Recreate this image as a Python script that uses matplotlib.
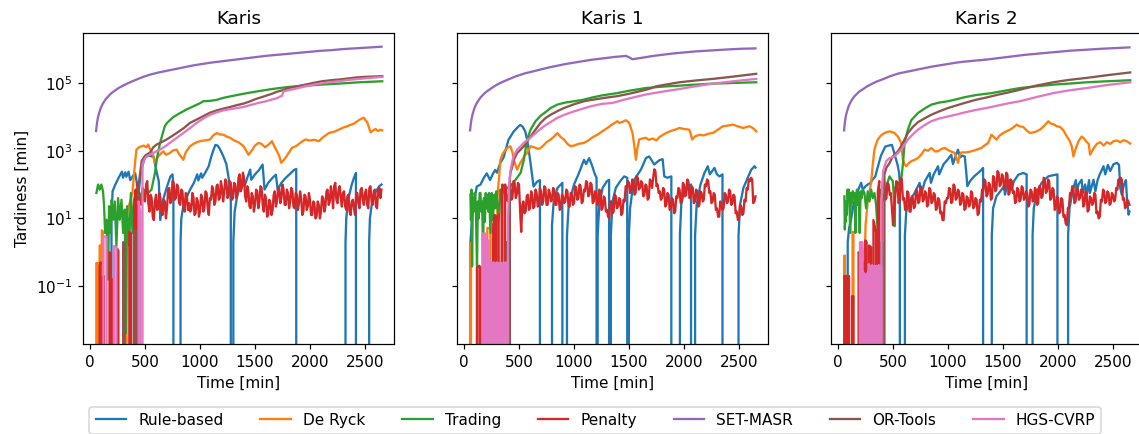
import numpy as np
import matplotlib.pyplot as plt

# Values are log10(tardiness [min]); Z marks zero tardiness (line falls to the floor)
Z = -np.inf

titles = ['Karis', 'Karis 1', 'Karis 2']
methods = ['Rule-based', 'De Ryck', 'Trading', 'Penalty', 'SET-MASR', 'OR-Tools', 'HGS-CVRP']
colors = ['tab:blue', 'tab:orange', 'tab:green', 'tab:red', 'tab:purple', 'tab:brown', 'tab:pink']

# ---------------- Karis ----------------
k0_rule_t = [190, 195, 205, 230, 260, 290, 300, 320, 330, 350, 365, 400, 411, 441, 460, 480, 502, 540, 578, 608,
             625, 639, 660, 700, 730, 750, 758, 760, 820, 823, 830, 850, 880, 910, 943, 975, 985, 1010, 1020, 1050,
             1080, 1100, 1120, 1140, 1160, 1180, 1210, 1240, 1265, 1280, 1290, 1300, 1303, 1315, 1340, 1380, 1395,
             1405, 1430, 1456, 1466, 1500, 1535, 1569, 1587, 1620, 1660, 1690, 1706, 1740, 1780, 1820, 1852, 1875,
             1882, 2320, 2323, 2330, 2350, 2380, 2400, 2418, 2422, 2535, 2538, 2545, 2565, 2600, 2630, 2650]
k0_rule = [Z, 1.0, 1.8, 2.0, 2.2, 2.38, 2.2, 2.36, 2.23, 2.38, 2.13, 2.3, 2.33, 1.74, 2.3, 2.6, 2.82, 2.85, 2.82, 2.33,
           2.1, 0.95, 1.5, 1.94, 2.23, 2.3, 2.0, Z, Z, 0.3, 1.0, 1.4, 1.64, 1.85, 2.04, 2.3, 2.12, 2.33, 2.2, 2.36,
           2.55, 2.8, 3.0, 3.17, 3.15, 3.05, 2.85, 2.6, 2.1, 1.5, Z, Z, 0.3, 1.2, 1.7, 2.05, 2.25,
           1.95, 2.2, 2.44, 2.14, 2.3, 2.42, 2.59, 1.85, 2.05, 2.2, 2.29, 1.85, 2.05, 2.2, 2.32, 2.42, 2.46,
           Z, Z, 0.3, 1.0, 1.6, 2.0, 2.2, 2.34, Z, Z, 0.3, 1.0, 1.5, 1.8, 1.95, 2.0]

k0_ryck_t = [55, 57, 68, 70, 85, 87, 95, 97, 105, 107, 118, 120, 330, 332, 345, 365, 385, 405, 422, 445,
             468, 490, 510, 529, 545, 559, 575, 590, 605, 620, 640, 666, 690, 726, 750, 787, 810, 848, 870, 909,
             940, 970, 1000, 1040, 1091, 1120, 1152, 1180, 1213, 1240, 1274, 1310, 1350, 1396, 1441, 1470, 1500,
             1532, 1560, 1590, 1624, 1654, 1680, 1700, 1720, 1739, 1760, 1776, 1800, 1836, 1880, 1920, 1958, 2000,
             2040, 2080, 2120, 2171, 2220, 2262, 2300, 2353, 2400, 2444, 2470, 2490, 2505, 2520, 2535, 2551,
             2575, 2596, 2620, 2640, 2657]
k0_ryck = [Z, -0.32, -0.32, Z, Z, 0.2, 0.2, Z, Z, 0.65, 0.6, Z, Z, 1.0, 1.3, 1.5, 1.75, 2.5, 3.03, 3.1,
           3.13, 3.15, 3.1, 3.18, 3.05, 2.98, 2.85, 2.64, 2.75, 2.83, 2.9, 2.98, 2.88, 2.93, 3.0, 3.03, 2.9, 2.73,
           2.95, 3.13, 3.2, 3.25, 3.28, 3.3, 3.33, 3.45, 3.52, 3.48, 3.47, 3.42, 3.38, 3.3, 3.25, 3.13, 2.88, 3.0,
           3.15, 3.23, 3.2, 3.1, 3.18, 3.28, 3.1, 2.98, 2.85, 2.64, 2.72, 2.78, 2.9, 3.08, 3.15, 3.25, 3.33, 3.3,
           3.32, 3.28, 3.4, 3.52, 3.56, 3.62, 3.68, 3.74, 3.8, 3.9, 3.95, 3.97, 3.9, 3.84, 3.7, 3.54,
           3.6, 3.64, 3.58, 3.62, 3.60]

k0_trade_t = [58, 73, 88, 103, 118, 128, 137, 149, 164, 173, 185, 197, 210, 225, 240, 255, 270, 286, 301, 316,
              325, 337, 356, 371, 386, 401, 422, 453, 483, 529, 559, 590, 610, 635, 660, 680, 700, 726, 760, 818,
              880, 939, 1000, 1030, 1091, 1150, 1213, 1300, 1395, 1500, 1654, 1800, 1958, 2100, 2262, 2450, 2657]
k0_trade = [1.75, 2.0, 1.85, 2.0, 1.8, 1.36, 0.57, 0.96, -0.81, 1.36, 0.57, 1.55, 0.96, 1.5, 0.18, 1.6, 0.96, 1.55,
            0.57, 1.26, -2.4, 1.36, 0.18, 1.75, 0.57, 1.55, 1.85, 1.65, 1.85, 1.75, 1.85, 2.34, 2.8, 3.2, 3.5, 3.72,
            3.82, 3.9, 4.0, 4.11, 4.22, 4.31, 4.4, 4.46, 4.47, 4.5, 4.56, 4.62, 4.68, 4.74, 4.82, 4.88, 4.92, 4.95,
            4.98, 5.02, 5.05]

k0_pen_t = [85, 87, 95, 97, 115, 117, 125, 127, 175, 177, 185, 187, 200, 202, 210, 212, 245, 247, 258, 260,
            300, 302, 312, 314, 355, 357, 372, 374, 400, 402, 415, 417, 430, 432, 450, 465] \
    + list(range(480, 2651, 10))
k0_pen = [Z, -0.4, -0.3, Z, Z, -0.75, -0.7, Z, Z, 0.0, -0.05, Z, Z, -0.8, -0.8, Z, Z, 0.1, 0.05, Z,
          Z, 0.2, 0.15, Z, Z, 0.6, 0.55, Z, Z, 1.3, 1.85, Z, Z, 2.05, 1.6, 1.4,
          1.9, 1.55, 1.5, 2.0, 2.1, 1.45, 1.2, 1.7, 1.6, 1.05,
          0.95, 1.5, 1.7, 1.25, 1.3, 1.75, 1.6, 1.15, 1.1, 1.55,
          1.5, 1.0, 1.3, 1.85, 1.9, 1.45, 1.5, 2.1, 2.05, 1.55,
          1.6, 2.0, 1.95, 1.45, 1.4, 1.85, 1.8, 1.3, 1.2, 1.75,
          1.7, 1.25, 1.45, 1.2, 1.25, 1.75, 1.65, 1.1, 1.15, 1.6,
          1.5, 1.05, 1.2, 1.7, 1.6, 1.2, 1.3, 1.8, 1.75, 1.3,
          1.1, 1.6, 1.55, 1.95, 1.85, 1.4, 1.5, 1.95, 2.0, 1.55,
          1.6, 2.1, 1.9, 1.5, 1.75, 2.15, 2.1, 1.6, 1.7, 2.1,
          2.05, 1.55, 1.6, 2.05, 2.0, 1.6, 1.7, 2.2, 2.3, 1.8,
          1.9, 2.35, 2.2, 1.65, 1.5, 1.95, 1.8, 1.35, 1.3, 1.75,
          1.65, 1.2, 1.4, 1.85, 1.8, 1.3, 1.5, 1.95, 1.9, 1.4,
          1.2, 1.7, 1.6, 1.05, 1.1, 1.55, 1.45, 1.1, 1.25, 1.7,
          1.8, 1.35, 1.5, 1.9, 1.9, 1.45, 1.6, 2.0, 1.85, 1.4,
          1.4, 1.85, 1.75, 1.3, 1.5, 1.9, 1.8, 1.35, 1.3, 1.75,
          1.7, 1.25, 1.45, 1.8, 1.6, 1.1, 1.2, 1.7, 1.65, 1.25,
          1.35, 1.75, 1.55, 1.1, 1.1, 1.5, 1.45, 1.0, 1.05, 1.5,
          1.4, 1.0, 1.2, 1.65, 1.6, 1.2, 1.35, 1.8, 1.85, 1.4,
          1.5, 1.95, 1.7, 1.3, 1.95, 2.05, 1.55, 1.45, 1.85, 1.95,
          1.6, 1.35, 1.75, 1.8, 1.35, 1.25, 1.65, 1.7, 1.2, 1.1,
          1.5, 1.55, 1.3, 1.1, 1.7, 1.75, 1.45, 1.3, 1.85, 1.9,
          1.55, 1.4, 1.75, 1.85, 1.4, 1.3, 1.9, 1.95, 1.5, 1.4,
          1.8, 1.85, 1.35, 1.3, 1.85, 1.9, 1.6, 1.85]

k0_set_t = [55, 60, 65, 72, 80, 90, 100, 115, 130, 150, 170, 195, 220, 260, 300, 350, 400, 475, 550, 625, 700,
            775, 850, 925, 1000, 1100, 1200, 1300, 1400, 1500, 1600, 1700, 1800, 1900, 2000, 2100, 2200, 2300,
            2400, 2525, 2650]
k0_set = [3.58, 3.73, 3.85, 3.98, 4.08, 4.19, 4.28, 4.38, 4.46, 4.55, 4.62, 4.70, 4.76, 4.85, 4.92, 5.00, 5.07,
          5.17, 5.25, 5.31, 5.36, 5.41, 5.46, 5.51, 5.55, 5.60, 5.64, 5.68, 5.72, 5.76, 5.80, 5.83, 5.86, 5.89,
          5.92, 5.95, 5.97, 6.00, 6.02, 6.045, 6.07]

k0_ort_t = [300, 302, 315, 317, 395, 397, 420, 422, 440, 442, 470, 500, 547, 575, 605, 650, 696, 740, 787, 850,
            909, 970, 1030, 1090, 1152, 1210, 1274, 1330, 1395, 1450, 1502, 1560, 1654, 1700, 1745, 1806, 1880,
            1958, 2030, 2110, 2190, 2262, 2340, 2414, 2500, 2580, 2657]
k0_ort = [Z, 0.3, 0.25, Z, Z, 0.67, 0.6, Z, Z, 2.0, 2.7, 2.85, 2.95, 3.1, 3.18, 3.25, 3.33, 3.42, 3.52, 3.66,
          3.82, 3.92, 4.02, 4.12, 4.19, 4.24, 4.29, 4.34, 4.39, 4.45, 4.52, 4.58, 4.68, 4.74, 4.78, 4.85, 4.90,
          4.95, 5.00, 5.05, 5.08, 5.10, 5.13, 5.16, 5.18, 5.19, 5.20]

k0_hgs_t = [120, 122, 150, 152, 215, 217, 240, 242, 440, 442, 455, 457, 470, 477, 495, 514, 545, 574, 605, 635,
            680, 726, 790, 848, 910, 970, 1030, 1091, 1150, 1213, 1300, 1395, 1460, 1532, 1600, 1654, 1700, 1730,
            1745, 1760, 1800, 1880, 1958, 2050, 2150, 2262, 2350, 2450, 2550, 2657]
k0_hgs = [Z, 0.47, 0.45, Z, Z, 0.18, 0.15, Z, Z, 1.5, 1.2, Z, Z, 2.59, 2.75, 2.83, 2.88, 2.93, 2.98, 3.03,
          3.12, 3.23, 3.38, 3.52, 3.67, 3.82, 3.95, 4.06, 4.13, 4.19, 4.24, 4.29, 4.35, 4.41, 4.46, 4.51, 4.55,
          4.60, 4.62, 4.75, 4.78, 4.84, 4.90, 4.96, 5.01, 5.05, 5.09, 5.12, 5.15, 5.18]

# ---------------- Karis 1 ----------------
k1_rule_t = [52, 55, 80, 116, 150, 180, 207, 237, 260, 283, 300, 328, 360, 404, 450, 490, 511, 535, 557, 575,
             588, 610, 632, 663, 690, 693, 796, 800, 815, 850, 880, 894, 903, 933, 936, 950, 980, 1000, 1040, 1091,
             1110, 1137, 1160, 1190, 1205, 1207, 1212, 1215, 1230, 1260, 1300, 1319, 1328, 1332, 1335, 1350, 1380,
             1420, 1456, 1484, 1487, 1496, 1499, 1510, 1530, 1548, 1580, 1610, 1654, 1684, 1730, 1776, 1806, 1821,
             1850, 1885, 1891, 1960, 1963, 1975, 2000, 2030, 2064, 2073, 2098, 2101, 2115, 2150, 2186, 2216, 2235,
             2277, 2300, 2323, 2350, 2371, 2493, 2496, 2510, 2540, 2580, 2612, 2642, 2650]
k1_rule = [Z, 0.16, 1.3, 1.94, 2.0, 2.2, 2.33, 2.13, 2.3, 2.43, 2.35, 2.63, 2.8, 3.32, 3.56, 3.7, 3.76, 3.7, 3.56,
           3.3, 3.02, 2.5, 1.94, 2.08, 2.13, Z, Z, 0.8, 1.5, 1.9, 2.0, 2.05, Z, Z, 0.5, 1.3, 1.75, 2.0, 2.3, 2.73,
           2.6, 2.78, 2.6, 2.3, 2.2, Z, Z, 0.5, 1.4, 1.9, 2.1, 2.14, Z, Z, 0.5, 1.5, 1.9, 2.1, 2.24, 2.2, Z, Z, 0.5,
           1.3, 1.8, 2.14, 2.3, 2.45, 2.78, 2.83, 2.59, 2.72, 2.75, 2.24, 2.2, 2.24, Z, Z, 0.5, 1.4, 1.8, 1.95, 2.0,
           Z, Z, 0.5, 1.4, 2.0, 2.34, 2.54, 2.3, 2.49, 2.3, 2.24, 2.3, Z, Z, 0.5, 1.4, 1.9, 2.2, 2.44, 2.54, 2.5]

k1_ryck_t = [55, 57, 63, 65, 210, 212, 240, 242, 300, 302, 331, 350, 377, 400, 422, 440, 453, 470, 483, 505,
             529, 550, 574, 605, 640, 670, 696, 720, 750, 787, 820, 848, 880, 909, 940, 970, 1000, 1040, 1091,
             1130, 1170, 1213, 1260, 1304, 1350, 1395, 1411, 1440, 1472, 1502, 1532, 1550, 1563, 1575, 1593, 1620,
             1654, 1680, 1715, 1750, 1776, 1800, 1836, 1880, 1920, 1958, 2000, 2049, 2065, 2073, 2100, 2140, 2180,
             2220, 2262, 2300, 2353, 2400, 2444, 2490, 2536, 2570, 2596, 2630, 2657]
k1_ryck = [Z, 0.27, 0.27, Z, Z, 0.72, 0.7, Z, Z, 1.55, 2.73, 2.9, 3.03, 3.1, 3.13, 2.95, 2.73, 2.55, 2.44, 2.6,
           2.73, 2.85, 2.93, 3.13, 3.1, 3.05, 3.08, 3.15, 3.25, 3.33, 3.42, 3.52, 3.4, 3.33, 3.2, 3.13, 3.15, 3.2,
           3.23, 3.3, 3.4, 3.47, 3.58, 3.67, 3.78, 3.87, 3.82, 3.85, 3.9, 3.82, 3.52, 3.1, 2.73, 3.05, 3.33, 3.36,
           3.38, 3.32, 3.36, 3.3, 3.4, 3.45, 3.52, 3.58, 3.62, 3.67, 3.64, 3.62, 3.45, 3.33, 3.42, 3.47, 3.45, 3.5,
           3.52, 3.6, 3.72, 3.74, 3.77, 3.72, 3.67, 3.7, 3.72, 3.66, 3.57]

k1_trade_t = [58, 63, 68, 73, 80, 88, 95, 103, 110, 118, 126, 134, 142, 149, 157, 164, 173, 181, 190, 197,
              205, 212, 220, 228, 240, 252, 262, 276, 285, 295, 301, 316, 331, 346, 362, 392, 422, 468, 514, 544,
              574, 605, 650, 696, 750, 787, 848, 920, 1000, 1080, 1152, 1250, 1395, 1502, 1654, 1800, 1958, 2100,
              2262, 2450, 2657]
k1_trade = [1.70, 0.95, 1.85, -0.42, 1.6, 1.2, 1.75, 1.7, 0.9, -0.42, 1.5, 1.0, 1.75, 1.75, 1.2, 1.5, 0.08, 1.6,
            0.9, 1.75, 1.3, 1.7, 1.2, 1.75, 0.57, 1.75, 0.95, 1.7, 1.3, 1.8, 1.55, 0.96, 1.85, 1.7, 1.85, 1.9, 1.95,
            2.14, 2.34, 2.73, 3.33, 3.62, 3.87, 4.03, 4.16, 4.26, 4.36, 4.42, 4.46, 4.50, 4.56, 4.63, 4.70, 4.77,
            4.85, 4.89, 4.92, 4.95, 4.98, 5.00, 5.02]

k1_pen_t = [115, 117, 140, 142, 150, 152, 160, 162, 205, 207, 215, 217, 230, 232, 240, 242, 262, 264, 280, 282,
            290, 292, 315, 317, 340, 342, 350, 352, 372, 374, 385] \
    + list(range(400, 2651, 10))
k1_pen = [Z, -0.45, -0.4, Z, Z, -0.45, -0.45, Z, Z, -0.2, -0.15, Z, Z, -1.4, -1.4, Z, Z, 0.8, 1.1, Z,
          Z, 1.05, 1.1, Z, Z, 1.8, 2.0, Z, Z, 2.0, 1.6,
          1.5, 1.95, 2.0, 1.55, 1.6, 2.1, 2.05, 1.6, 1.7, 2.05,
          2.0, 1.2, 0.6, 1.4, 1.5, 1.15, 1.2, 1.65, 1.7, 1.25,
          1.3, 1.8, 1.7, 1.3, 1.35, 1.85, 1.75, 1.35, 1.4, 1.9,
          1.8, 1.4, 1.5, 1.95, 1.9, 1.4, 1.4, 1.85, 1.75, 1.5,
          1.55, 1.9, 1.85, 1.4, 1.4, 1.75, 1.7, 1.25, 1.3, 1.7,
          1.65, 1.45, 1.5, 1.85, 1.8, 1.35, 1.35, 1.75, 1.7, 1.4,
          1.45, 1.95, 1.9, 1.55, 1.6, 2.0, 1.95, 1.45, 1.5, 1.85,
          1.8, 2.1, 2.05, 1.65, 1.7, 2.05, 2.0, 1.45, 1.5, 1.8,
          1.75, 1.4, 1.45, 1.85, 1.8, 1.25, 1.3, 1.65, 1.6, 1.2,
          1.25, 1.05, 1.0, 1.5, 1.5, 1.15, 1.2, 1.7, 1.65, 1.3,
          1.35, 1.6, 1.55, 1.1, 1.15, 1.55, 1.5, 1.95, 1.9, 2.1,
          2.05, 1.75, 1.8, 2.15, 2.1, 1.7, 1.75, 2.25, 2.2, 1.85,
          1.9, 2.1, 2.05, 1.65, 1.7, 2.0, 1.95, 1.55, 1.6, 2.15,
          2.1, 1.9, 2.2, 2.45, 2.4, 1.95, 2.0, 1.75, 1.8, 1.55,
          1.6, 1.9, 1.85, 1.35, 1.4, 1.75, 1.7, 1.25, 1.3, 1.6,
          1.55, 1.15, 1.2, 1.65, 1.6, 1.9, 1.85, 1.45, 1.5, 2.05,
          2.0, 1.65, 1.7, 2.15, 2.1, 1.6, 1.65, 1.95, 1.9, 1.45,
          1.5, 1.85, 1.8, 1.35, 1.4, 1.8, 1.75, 1.5, 1.55, 2.0,
          1.95, 2.15, 2.1, 1.75, 1.8, 1.45, 1.5, 1.75, 1.7, 1.25,
          1.3, 1.05, 1.05, 1.5, 1.45, 1.25, 1.3, 1.75, 1.7, 1.45,
          1.5, 1.85, 1.8, 1.4, 1.45, 1.7, 1.65, 1.15, 1.2, 0.95,
          1.0, 1.4, 1.35, 1.1, 1.15, 1.55, 1.5, 1.9, 1.85, 2.15,
          2.1, 2.2, 2.15, 1.45, 1.5, 1.65]

k1_set_t = [55, 60, 65, 72, 80, 90, 100, 115, 130, 150, 170, 195, 220, 260, 300, 350, 400, 475, 550, 625, 700,
            775, 850, 925, 1000, 1075, 1150, 1225, 1300, 1375, 1450, 1470, 1500, 1530, 1590, 1650, 1725, 1800,
            1900, 2000, 2100, 2200, 2300, 2400, 2525, 2650]
k1_set = [3.60, 3.75, 3.87, 4.00, 4.10, 4.21, 4.30, 4.40, 4.48, 4.57, 4.64, 4.72, 4.78, 4.87, 4.95, 5.03, 5.10,
          5.20, 5.28, 5.34, 5.40, 5.46, 5.51, 5.56, 5.60, 5.64, 5.68, 5.71, 5.74, 5.77, 5.79, 5.80, 5.76, 5.70,
          5.73, 5.76, 5.80, 5.83, 5.87, 5.90, 5.93, 5.95, 5.97, 5.99, 6.01, 6.02]

k1_ort_t = [385, 387, 400, 402, 415, 417, 422, 440, 453, 483, 514, 544, 574, 605, 650, 696, 740, 787, 850, 909,
            1000, 1091, 1200, 1300, 1395, 1500, 1580, 1654, 1700, 1745, 1850, 1958, 2100, 2262, 2400, 2530, 2657]
k1_ort = [Z, 0.3, 0.3, Z, Z, 2.2, 2.34, 2.55, 2.73, 2.93, 3.03, 3.13, 3.28, 3.42, 3.62, 3.82, 3.96, 4.06, 4.17,
          4.26, 4.37, 4.46, 4.52, 4.57, 4.61, 4.68, 4.74, 4.80, 4.84, 4.90, 4.96, 5.02, 5.07, 5.12, 5.17, 5.22,
          5.27]

k1_hgs_t = list(range(165, 396, 5)) + [398, 400, 410, 422, 440, 453, 483, 514, 544, 590, 635, 680, 726, 790,
                                         848, 920, 1000, 1080, 1152, 1250, 1350, 1450, 1550, 1654, 1800, 1958,
                                         2100, 2262, 2450, 2657]
k1_hgs = [Z, 0.56, Z, 0.5, Z, 0.56, Z, 0.45, Z, 0.3, Z, 0.35, Z, -0.2, Z, -0.3, Z, -0.3, Z, -0.35, Z, -0.3,
          Z, -0.32, Z, -0.4, Z, -0.3, Z, -0.35, Z, -0.32, Z, -0.3, Z, -0.38, Z, -0.32, Z, -0.3, Z, -0.35,
          Z, -0.3, Z, -0.4, Z,
          Z, 1.0, 2.0, 2.4, 2.7, 2.85, 3.03, 3.13, 3.23, 3.35, 3.47, 3.6, 3.72, 3.85, 3.97, 4.07, 4.16, 4.24,
          4.31, 4.38, 4.41, 4.5, 4.58, 4.66, 4.74, 4.82, 4.90, 4.98, 5.05, 5.12]

# ---------------- Karis 2 ----------------
k2_rule_t = [85, 88, 100, 118, 140, 164, 190, 210, 225, 250, 270, 292, 315, 338, 360, 390, 429, 460, 490, 505,
             520, 540, 556, 562, 566, 605, 608, 620, 650, 696, 742, 755, 790, 833, 845, 870, 909, 920, 960, 1000,
             1030, 1045, 1070, 1091, 1110, 1130, 1152, 1165, 1176, 1200, 1240, 1274, 1300, 1319, 1325, 1395, 1398,
             1410, 1440, 1487, 1510, 1518, 1540, 1563, 1575, 1600, 1639, 1684, 1715, 1721, 1766, 1769, 1780, 1810,
             1852, 1880, 1912, 1950, 1995, 2000, 2089, 2092, 2105, 2140, 2162, 2170, 2186, 2215, 2225, 2247, 2262,
             2283, 2290, 2323, 2340, 2360, 2380, 2414, 2430, 2454, 2475, 2505, 2536, 2555, 2566, 2580, 2600, 2618,
             2627, 2642, 2650]
k2_rule = [Z, 0.3, 0.7, 0.96, 1.4, 1.65, 1.9, 2.05, 1.85, 1.95, 2.0, 2.04, 2.15, 2.23, 2.5, 2.85, 3.12, 3.15,
           3.17, 3.0, 2.82, 2.6, 2.33, 2.0, Z, Z, 0.5, 1.2, 1.5, 1.75, 2.05, 1.7, 2.1, 2.34, 2.05, 2.3, 2.54, 2.3,
           2.6, 2.75, 2.88, 2.6, 2.85, 3.03, 2.8, 2.85, 2.83, 2.4, 1.95, 2.1, 2.25, 2.34, 2.42, 2.49, Z, Z, 0.5,
           1.3, 1.65, 1.85, 1.95, 1.7, 2.0, 2.14, 1.85, 2.1, 2.29, 2.34, 2.3, Z, Z, 0.5, 1.3, 1.8, 2.05, 2.15,
           2.24, 2.27, 2.3, Z, Z, 0.5, 1.3, 1.9, 2.13, 1.75, 2.0, 2.14, 1.75, 2.0, 1.7, 2.13, 1.75, 2.14, 1.8,
           2.13, 2.3, 2.54, 2.3, 2.58, 2.4, 2.6, 2.64, 2.58, 1.9, 1.7, 2.0, 2.13, 1.6, 1.11, 1.2]

k2_ryck_t = [55, 57, 62, 64, 130, 132, 140, 142, 225, 227, 245, 250, 270, 301, 316, 331, 346, 362, 390, 422,
             445, 468, 490, 514, 544, 574, 590, 605, 620, 640, 666, 690, 726, 760, 787, 820, 848, 880, 909, 940,
             970, 1010, 1061, 1075, 1091, 1105, 1122, 1170, 1213, 1260, 1304, 1330, 1365, 1395, 1441, 1470, 1502,
             1530, 1563, 1600, 1624, 1650, 1684, 1715, 1745, 1790, 1836, 1870, 1912, 1935, 1958, 1990, 2019, 2050,
             2080, 2105, 2125, 2140, 2155, 2171, 2190, 2216, 2240, 2262, 2280, 2292, 2320, 2353, 2385, 2414, 2445,
             2475, 2505, 2536, 2566, 2596, 2625, 2657]
k2_ryck = [Z, -0.1, -0.1, Z, Z, 0.6, 0.6, Z, Z, 0.08, 0.08, 0.8, 1.5, 2.05, 2.6, 3.03, 3.2, 3.33, 3.45, 3.52,
           3.55, 3.57, 3.55, 3.52, 3.42, 3.23, 2.73, 2.6, 2.54, 2.62, 2.69, 2.72, 2.78, 2.9, 3.03, 3.0, 3.08, 2.98,
           2.98, 3.05, 3.08, 3.0, 2.93, 2.8, 2.64, 2.85, 2.95, 2.95, 2.98, 3.03, 3.08, 3.15, 3.23, 3.47, 3.33, 3.45,
           3.52, 3.57, 3.62, 3.7, 3.77, 3.72, 3.7, 3.6, 3.52, 3.55, 3.62, 3.72, 3.87, 3.8, 3.78, 3.72, 3.7, 3.6,
           3.42, 3.3, 3.13, 2.83, 3.0, 3.15, 3.3, 3.42, 3.35, 3.25, 3.2, 2.88, 3.05, 3.2, 3.25, 3.15, 3.25, 3.2,
           3.28, 3.3, 3.25, 3.31, 3.28, 3.21]

k2_trade_t = [58, 62, 66, 70, 75, 80, 86, 92, 98, 103, 110, 118, 126, 134, 142, 150, 158, 164, 172, 179,
              188, 197, 205, 215, 225, 240, 255, 270, 286, 301, 316, 331, 346, 362, 375, 392, 410, 422, 440, 468,
              498, 510, 514, 520, 544, 574, 590, 605, 635, 666, 726, 790, 848, 920, 1000, 1080, 1152, 1250, 1395,
              1500, 1654, 1800, 1958, 2100, 2262, 2450, 2657]
k2_trade = [1.65, 0.67, 1.2, 0.9, 1.5, 1.1, 1.85, 1.6, 1.85, 1.7, 0.57, 1.75, 1.45, 1.8, 1.6, 1.75, 0.57, 1.5,
            1.85, 1.4, 1.75, 0.57, 1.8, 1.6, 1.85, 1.75, 1.3, 1.8, 1.5, 1.85, 1.6, 1.75, 1.4, 0.57, 1.6, 1.85,
            1.55, 1.7, 1.95, 2.24, 2.1, 1.5, 0.77, 1.9, 2.0, 2.14, 2.6, 3.23, 3.62, 3.9, 4.11, 4.25, 4.36, 4.42,
            4.46, 4.52, 4.58, 4.64, 4.70, 4.76, 4.85, 4.90, 4.95, 4.98, 5.02, 5.05, 5.08]

k2_pen_t = [55, 57, 75, 77, 85, 87, 100, 102, 125, 127, 140, 142, 185, 187, 200, 202, 215, 217, 235, 237,
            245, 247, 260, 262, 280, 282, 300, 302, 320, 322, 345, 347, 360, 362, 375, 377, 385] \
    + list(range(400, 2651, 10))
k2_pen = [Z, -0.7, -0.7, Z, Z, -0.75, -0.7, Z, Z, -1.3, -1.3, Z, Z, 0.0, -0.1, Z, Z, -0.3, -0.3, Z,
          Z, 0.35, 0.3, Z, Z, 0.2, 0.15, Z, Z, 0.95, 0.6, Z, Z, 1.8, 2.1, Z, Z,
          1.8, 2.15, 2.1, 1.55, 1.6, 2.05, 2.0, 1.7, 1.75, 1.3,
          0.8, 1.25, 1.7, 2.1, 2.05, 1.45, 1.5, 2.2, 2.15, 1.55,
          1.6, 1.25, 1.3, 1.8, 1.75, 1.2, 1.2, 1.65, 1.6, 1.3,
          1.35, 1.85, 1.8, 1.45, 1.5, 1.95, 1.9, 1.5, 1.55, 1.8,
          1.75, 1.35, 1.4, 1.9, 1.85, 1.45, 1.5, 1.75, 1.7, 1.25,
          1.3, 1.6, 1.55, 1.15, 1.2, 0.95, 0.95, 1.5, 1.45, 1.6,
          1.6, 1.9, 1.85, 1.45, 1.5, 2.0, 1.95, 1.55, 1.6, 1.85,
          1.8, 1.4, 1.45, 1.75, 1.7, 1.25, 1.3, 1.65, 1.6, 1.35,
          1.4, 1.8, 1.75, 1.3, 1.35, 1.6, 1.55, 1.1, 1.15, 1.55,
          1.5, 1.85, 1.8, 2.15, 2.1, 1.65, 1.7, 2.05, 2.0, 1.55,
          1.6, 2.25, 2.2, 1.8, 1.85, 2.4, 2.35, 1.95, 2.0, 2.3,
          2.25, 1.85, 1.9, 2.35, 2.3, 1.7, 1.75, 2.15, 2.1, 1.75,
          1.8, 1.45, 1.5, 1.9, 1.85, 1.5, 1.55, 1.95, 1.9, 1.55,
          1.6, 1.8, 1.75, 1.35, 1.4, 1.85, 1.8, 1.5, 1.55, 1.9,
          1.85, 1.4, 1.45, 1.95, 1.9, 1.6, 1.65, 2.2, 2.15, 1.75,
          1.8, 2.15, 2.1, 1.55, 1.6, 1.9, 1.85, 1.25, 1.3, 1.65,
          1.6, 1.15, 1.2, 1.6, 1.55, 1.05, 1.1, 0.85, 0.8, 1.3,
          1.35, 1.75, 1.7, 1.95, 1.9, 1.45, 1.5, 1.9, 1.85, 1.55,
          1.6, 1.85, 1.8, 1.35, 1.4, 1.8, 1.75, 1.2, 1.25, 1.65,
          1.6, 1.4, 1.45, 1.75, 1.7, 1.15, 1.2, 1.0, 1.05, 1.55,
          1.5, 1.85, 1.8, 1.45, 1.5, 1.8, 1.75, 1.4, 1.45, 1.75,
          1.7, 1.5, 1.55, 1.9, 1.85, 2.15, 2.1, 2.2, 2.15, 1.55,
          1.6, 1.3, 1.35, 1.55, 1.5, 1.4]

k2_set_t = [55, 60, 65, 72, 80, 90, 100, 115, 130, 150, 170, 195, 220, 260, 300, 350, 400, 475, 550, 625, 700,
            775, 850, 925, 1000, 1075, 1150, 1250, 1350, 1475, 1600, 1700, 1800, 1900, 2000, 2100, 2200, 2300,
            2400, 2525, 2650]
k2_set = [3.60, 3.77, 3.90, 4.04, 4.14, 4.25, 4.34, 4.44, 4.52, 4.61, 4.67, 4.75, 4.80, 4.89, 4.96, 5.04, 5.10,
          5.20, 5.28, 5.33, 5.38, 5.43, 5.48, 5.52, 5.56, 5.60, 5.63, 5.66, 5.69, 5.74, 5.79, 5.83, 5.86, 5.89,
          5.92, 5.95, 5.97, 5.99, 6.01, 6.03, 6.05]

k2_ort_t = [390, 392, 400, 402, 420, 422, 440, 468, 498, 544, 574, 605, 635, 680, 726, 790, 848, 920, 1000, 1080,
            1152, 1250, 1350, 1450, 1550, 1654, 1800, 1958, 2100, 2262, 2450, 2657]
k2_ort = [Z, 0.3, 0.3, Z, Z, 2.3, 2.5, 2.63, 2.83, 2.98, 3.13, 3.33, 3.52, 3.7, 3.84, 3.96, 4.06, 4.16, 4.26,
          4.34, 4.41, 4.5, 4.57, 4.65, 4.72, 4.80, 4.92, 5.02, 5.09, 5.15, 5.23, 5.31]

k2_hgs_t = list(range(195, 391, 5)) + [393, 395, 410, 440, 468, 514, 574, 635, 680, 726, 790, 848, 920, 1000,
                                         1080, 1152, 1250, 1350, 1450, 1550, 1654, 1800, 1958, 2100, 2262, 2450,
                                         2657]
k2_hgs = [Z, 0.3, Z, 0.27, Z, 0.3, Z, -0.6, Z, -0.7, Z, -0.65, Z, -0.7, Z, -0.6, Z, -0.35, Z, -0.4,
          Z, -0.42, Z, -0.38, Z, -0.42, Z, -0.4, Z, -0.45, Z, -0.4, Z, -0.42, Z, -0.38, Z, -0.4, Z, -0.42,
          Z, 1.5, 2.4, 2.7, 2.78, 2.83, 3.03, 3.33, 3.48, 3.62, 3.76, 3.87, 3.95, 4.01, 4.07, 4.13, 4.2, 4.26,
          4.33, 4.4, 4.46, 4.58, 4.70, 4.78, 4.85, 4.94, 5.02]

panels = [
    [(k0_rule_t, k0_rule), (k0_ryck_t, k0_ryck), (k0_trade_t, k0_trade), (k0_pen_t, k0_pen),
     (k0_set_t, k0_set), (k0_ort_t, k0_ort), (k0_hgs_t, k0_hgs)],
    [(k1_rule_t, k1_rule), (k1_ryck_t, k1_ryck), (k1_trade_t, k1_trade), (k1_pen_t, k1_pen),
     (k1_set_t, k1_set), (k1_ort_t, k1_ort), (k1_hgs_t, k1_hgs)],
    [(k2_rule_t, k2_rule), (k2_ryck_t, k2_ryck), (k2_trade_t, k2_trade), (k2_pen_t, k2_pen),
     (k2_set_t, k2_set), (k2_ort_t, k2_ort), (k2_hgs_t, k2_hgs)],
]

# ---------------- figure ----------------
W, H, DPI = 1139, 434, 110
fig = plt.figure(figsize=(W / DPI, H / DPI), dpi=DPI)

lefts = [83, 457, 831]   # axes left edges in pixels
axes = []
for i, x0 in enumerate(lefts):
    ax = fig.add_axes([x0 / W, 90 / H, 311 / W, 311 / H], sharey=axes[0] if axes else None)
    ax.set_yscale('log')
    for (t, logv), name, c in zip(panels[i], methods, colors):
        ax.plot(t, 10.0 ** np.asarray(logv, dtype=float), color=c, label=name, lw=1.5)
    ax.set_title(titles[i], fontsize=12)
    ax.set_xlabel('Time [min]')
    ax.set_xlim(-64, 2764)
    ax.set_xticks([0, 500, 1000, 1500, 2000, 2500])
    axes.append(ax)

axes[0].set_ylim(10 ** -2.71, 10 ** 6.475)
axes[0].set_yticks([1e-1, 1e1, 1e3, 1e5])
axes[0].yaxis.set_minor_locator(plt.NullLocator())
axes[0].set_ylabel('Tardiness [min]')
for ax in axes[1:]:
    ax.tick_params(labelleft=False)

handles, labels = axes[0].get_legend_handles_labels()
fig.legend(handles, labels, loc='lower center', ncol=7, bbox_to_anchor=(0.5228, -0.017),
           columnspacing=2.4)

fig.savefig('out.png', dpi=DPI)
